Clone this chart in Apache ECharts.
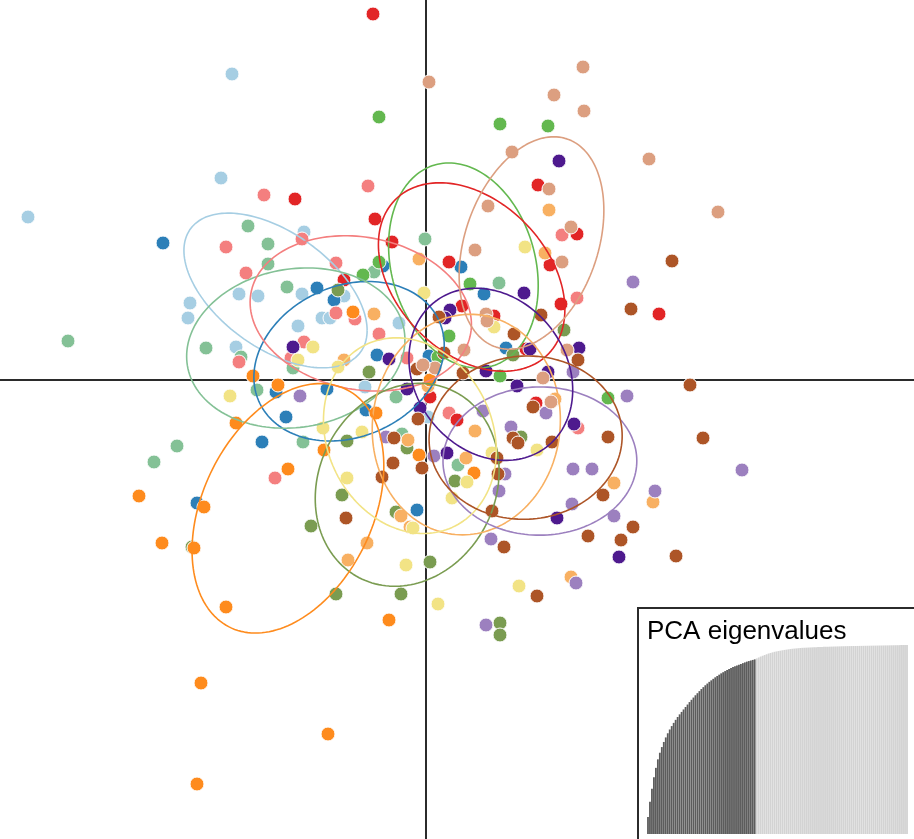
<!DOCTYPE html>
<html>
<head>
<meta charset="utf-8">
<script src="https://cdn.jsdelivr.net/npm/echarts@6/dist/echarts.min.js"></script>
<style>
  html, body { margin: 0; padding: 0; background: #ffffff; }
  #chart { width: 914px; height: 839px; }
</style>
</head>
<body>
<div id="chart"></div>
<script>
// Individual scores on discriminant functions 1 (x) and 2 (y), one array per group
const grpLightBlue = [[-19.4,30.6],[-20.5,20.2],[-39.8,16.3],[-12.2,14.8],[-18.7,8.6],[-16.8,8.4],[-12.4,8.6],[-23.6,7.7],[-23.8,6.2],[-8.2,8.4],[-10.4,6.2],[-9.6,6.2],[-12.8,5.4],[-2.7,5.7],[-19.0,3.3],[-6.1,-0.7],[0.2,-3.7]];
const grpBlue = [[-26.3,13.7],[-10.9,9.2],[-9.2,8.0],[-4.3,11.4],[3.5,11.3],[5.8,8.6],[-4.9,2.5],[0.3,2.4],[8.0,3.2],[-15.0,-1.2],[-9.9,-0.9],[-14.0,-3.7],[-6.0,-3.0],[-16.4,-6.2],[-22.9,-12.3],[-0.9,-13.0]];
const grpSeaGreen = [[-17.8,15.4],[-15.8,13.6],[-0.1,14.1],[-15.8,11.6],[-5.2,10.8],[-13.9,9.3],[-22.0,3.2],[-35.8,3.9],[-18.5,2.3],[-13.3,1.2],[-16.9,-1.0],[-3.0,-1.7],[-12.3,-6.2],[-2.4,-5.4],[3.2,-8.5],[-24.9,-6.6],[-27.2,-8.2],[7.3,9.7]];
const grpGreen = [[-4.7,26.3],[7.4,25.6],[12.2,25.4],[-4.7,11.8],[-6.3,10.5],[4.4,9.6],[2.3,4.4],[1.2,2.3],[7.4,0.4],[18.2,-1.8]];
const grpPink = [[-16.2,18.5],[-5.8,19.4],[-20.0,13.3],[-12.4,14.1],[-18.0,10.7],[-9.0,11.7],[-9.0,6.7],[-7.1,6.1],[-4.7,4.6],[-12.2,3.8],[-18.7,1.8],[-13.5,2.2],[-1.9,2.2],[2.3,-3.3],[-15.1,-9.8],[13.6,14.5],[15.1,8.2],[15.2,-4.8]];
const grpRed = [[-5.3,36.6],[-13.1,18.1],[-5.1,16.1],[-3.4,13.8],[-8.2,10.0],[2.3,11.8],[11.2,19.5],[15.1,14.6],[12.4,11.5],[13.5,7.6],[3.6,7.4],[6.8,6.4],[23.3,6.6],[10.0,3.1],[0.4,-1.7],[11.0,-2.3],[3.1,-4.0]];
const grpOlive = [[-8.8,9.0],[-5.7,0.8],[13.8,5.0],[8.7,2.5],[-7.9,-6.1],[-1.9,-6.8],[2.9,-10.1],[-8.4,-11.5],[-3.0,-13.2],[-11.5,-14.6],[0.4,-18.2],[-9.0,-21.4],[-2.5,-21.4],[7.4,-24.3],[7.4,-25.5],[9.5,-5.7],[-23.4,-16.7]];
const grpLightOrange = [[-0.7,12.1],[12.3,17.0],[11.9,12.7],[-5.2,6.6],[-8.2,2.0],[-1.8,-6.0],[4.9,-5.1],[4.0,-7.8],[12.9,-1.9],[18.8,-10.3],[22.7,-12.2],[14.5,-19.7],[-2.5,-13.6],[-1.6,-14.7],[-5.9,-16.3],[-7.8,-18.0],[0.2,-0.6]];
const grpOrange = [[-7.3,6.8],[-17.3,0.4],[-14.8,-0.5],[-5.0,-3.3],[-19.0,-4.3],[-10.2,-7.0],[-0.7,-7.5],[-13.8,-8.9],[4.8,-9.3],[-28.7,-11.6],[-22.2,-12.7],[-26.4,-16.3],[-23.2,-16.8],[-20.0,-22.7],[-3.7,-24.0],[-22.5,-30.3],[-9.8,-35.4],[-22.9,-40.4],[0.4,0.0]];
const grpLavender = [[20.7,9.8],[-12.6,-1.6],[20.1,-1.6],[14.7,0.8],[12.0,-3.3],[5.7,-3.1],[8.5,-4.7],[-4.0,-5.7],[0.8,-7.6],[7.9,-9.4],[7.3,-11.1],[14.7,-8.9],[16.6,-8.9],[14.6,-12.4],[22.9,-11.1],[31.6,-9.0],[18.8,-13.6],[6.5,-15.9],[15.0,-20.3],[6.0,-24.5]];
const grpPurple = [[13.3,21.9],[9.8,8.7],[2.4,7.0],[1.9,6.2],[-13.3,3.3],[-3.7,2.1],[-1.9,-0.9],[-0.6,-2.8],[2.1,-7.3],[6.0,0.9],[9.1,-0.6],[10.4,3.1],[12.2,0.8],[15.3,3.2],[14.8,-4.4],[13.1,-13.8],[19.3,-17.7]];
const grpYellow = [[9.9,13.3],[-0.2,8.7],[6.8,5.3],[-11.3,3.3],[-12.8,2.0],[-8.8,1.3],[-19.6,-1.6],[-10.3,-4.8],[-6.4,-5.2],[6.6,-7.3],[11.1,-7.0],[-7.9,-9.8],[4.1,-10.2],[2.6,-11.8],[-1.3,-14.8],[-2.0,-18.5],[1.2,-22.4],[9.3,-20.6]];
const grpBrown = [[1.3,6.3],[1.8,2.7],[-0.9,1.1],[3.7,0.7],[-0.8,-3.9],[24.6,11.9],[20.5,7.1],[11.5,6.5],[8.8,4.6],[15.2,2.0],[26.4,-0.5],[10.7,-2.7],[8.7,-5.8],[9.2,-6.3],[12.6,-6.2],[18.2,-5.7],[27.7,-5.8],[-3.2,-5.8],[-3.3,-8.3],[-0.4,-8.8],[-4.4,-9.7],[-8.0,-13.8],[7.1,-7.8],[7.2,-9.4],[17.7,-11.5],[6.6,-13.1],[20.7,-14.7],[16.2,-15.6],[19.5,-16.0],[7.8,-16.7],[25.0,-17.6],[11.1,-21.6]];
const grpTan = [[0.3,29.8],[15.7,31.3],[12.8,28.5],[15.8,26.9],[8.6,22.8],[22.3,22.1],[12.3,19.1],[6.2,17.4],[29.2,16.8],[14.5,15.3],[4.9,13.0],[13.6,11.8],[6.0,6.6],[6.1,5.9],[3.8,3.0],[14.1,3.0],[0.9,1.2],[11.7,0.2],[12.5,-2.2],[-0.3,1.5]];

// Cumulative PCA variance (%) per principal component; the first ones were retained
const pcaCumVar = [
  9, 17, 24, 30, 35, 39.5, 43, 46, 48.7, 51.1, 53.3, 55.3, 57.1, 58.8, 60.4, 61.9, 63.3, 64.6, 65.9, 67.2,
  68.5, 69.8, 71.0, 72.2, 73.4, 74.5, 75.6, 76.7, 77.7, 78.7, 79.6, 80.5, 81.3, 82.1, 82.9, 83.6, 84.3, 85.0, 85.6, 86.2,
  86.8, 87.3, 87.8, 88.3, 88.8, 89.2, 89.6, 90.0, 90.4, 90.8, 91.2, 91.5, 91.8, 92.1, 92.4,
  92.9, 93.4, 93.9, 94.3, 94.7, 95.1, 95.5, 95.8, 96.1, 96.4, 96.6, 96.8, 97.0, 97.2, 97.4, 97.55, 97.7, 97.85, 98.0, 98.1,
  98.2, 98.3, 98.4, 98.5, 98.55, 98.6, 98.65, 98.7, 98.75, 98.8, 98.85, 98.9, 98.94, 98.98, 99.02, 99.06, 99.1, 99.13, 99.16, 99.19,
  99.22, 99.25, 99.28, 99.31, 99.34, 99.37, 99.4, 99.42, 99.44, 99.46, 99.48, 99.5, 99.52, 99.54, 99.56, 99.58, 99.6, 99.62, 99.64, 99.66,
  99.68, 99.7, 99.72, 99.74, 99.76, 99.78, 99.8, 99.82, 99.84, 99.86, 99.88, 99.9, 99.92, 99.94, 99.96, 99.98, 100
];
const nRetained = 55;

// Groups in drawing order, each with its colour
const groups = [
  { data: grpLightBlue,  color: '#a6cee3' },
  { data: grpBlue,       color: '#2c7fb8' },
  { data: grpSeaGreen,   color: '#84c196' },
  { data: grpGreen,      color: '#63b84f' },
  { data: grpPink,       color: '#f47f7f' },
  { data: grpRed,        color: '#e22526' },
  { data: grpOlive,      color: '#7a9c51' },
  { data: grpLightOrange,color: '#f8b062' },
  { data: grpOrange,     color: '#fe8b1d' },
  { data: grpLavender,   color: '#9c80bf' },
  { data: grpPurple,     color: '#4e1a8e' },
  { data: grpYellow,     color: '#f2e385' },
  { data: grpBrown,      color: '#ad5527' },
  { data: grpTan,        color: '#dc9f80' }
];

// Inertia ellipse of a group: centred on the group mean, shaped by its covariance
function inertiaEllipse(pts, scale, steps) {
  const n = pts.length;
  let mx = 0, my = 0;
  pts.forEach(p => { mx += p[0]; my += p[1]; });
  mx /= n; my /= n;
  let sxx = 0, syy = 0, sxy = 0;
  pts.forEach(p => {
    const dx = p[0] - mx, dy = p[1] - my;
    sxx += dx * dx; syy += dy * dy; sxy += dx * dy;
  });
  sxx /= n; syy /= n; sxy /= n;
  const l11 = Math.sqrt(sxx);
  const l21 = sxy / l11;
  const l22 = Math.sqrt(Math.max(syy - l21 * l21, 0));
  const out = [];
  for (let i = 0; i <= steps; i++) {
    const t = 2 * Math.PI * i / steps;
    const c = Math.cos(t), s = Math.sin(t);
    out.push([mx + scale * l11 * c, my + scale * (l21 * c + l22 * s)]);
  }
  return out;
}

const series = [];
groups.forEach(g => {
  series.push({
    type: 'scatter',
    xAxisIndex: 0, yAxisIndex: 0,
    data: g.data,
    symbol: 'circle',
    symbolSize: 14,
    itemStyle: { color: g.color, borderColor: '#ffffff', borderWidth: 1, opacity: 1 },
    silent: true,
    z: 2
  });
});
groups.forEach(g => {
  series.push({
    type: 'line',
    xAxisIndex: 0, yAxisIndex: 0,
    data: inertiaEllipse(g.data, 1, 160),
    showSymbol: false,
    symbol: 'none',
    smooth: false,
    clip: false,
    lineStyle: { color: g.color, width: 1.6 },
    silent: true,
    z: 3
  });
});
series.push({
  type: 'bar',
  xAxisIndex: 1, yAxisIndex: 1,
  data: pcaCumVar.map((v, i) => ({
    value: v,
    itemStyle: { color: i < nRetained ? '#5c5c5c' : '#d3d3d3' }
  })),
  barCategoryGap: '8%',
  silent: true,
  z: 5
});

const chart = echarts.init(document.getElementById('chart'), null, { renderer: 'canvas' });
chart.setOption({
  animation: false,
  backgroundColor: '#ffffff',
  grid: [
    { left: 0, right: 0, top: 0, bottom: 0 },
    { left: 647, top: 645, width: 261, height: 189 }
  ],
  xAxis: [
    {
      gridIndex: 0, type: 'value', min: -42.6, max: 48.8,
      axisLine: { show: true, onZero: true, lineStyle: { color: '#2b2b2b', width: 2 } },
      axisTick: { show: false }, axisLabel: { show: false }, splitLine: { show: false }
    },
    {
      gridIndex: 1, type: 'category', data: pcaCumVar.map((v, i) => String(i + 1)),
      show: false
    }
  ],
  yAxis: [
    {
      gridIndex: 0, type: 'value', min: -45.9, max: 38.0,
      axisLine: { show: true, onZero: true, lineStyle: { color: '#2b2b2b', width: 2 } },
      axisTick: { show: false }, axisLabel: { show: false }, splitLine: { show: false }
    },
    { gridIndex: 1, type: 'value', min: 0, max: 100, show: false }
  ],
  graphic: [
    {
      type: 'rect', z: 4,
      shape: { x: 638, y: 608, width: 300, height: 260 },
      style: { fill: '#ffffff', stroke: '#2b2b2b', lineWidth: 2 }
    },
    {
      type: 'text', z: 6, left: 647, top: 619,
      style: { text: 'PCA eigenvalues', font: '26px "Liberation Sans", Arial, sans-serif', fill: '#000000' }
    }
  ],
  series: series
});
</script>
</body>
</html>
